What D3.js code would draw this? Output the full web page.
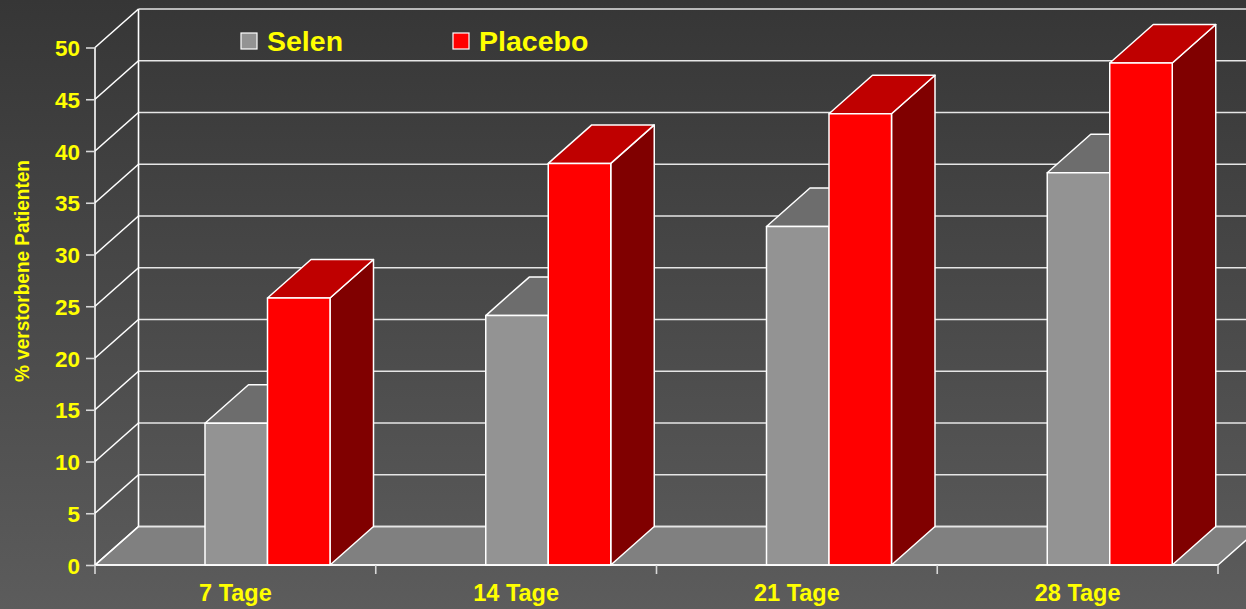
<!DOCTYPE html>
<html>
<head>
<meta charset="utf-8">
<script src="https://cdn.jsdelivr.net/npm/d3@7"></script>
<style>
  html, body { margin: 0; padding: 0; background: #444; }
  svg { display: block; }
  text { font-family: "Liberation Sans", Arial, sans-serif; font-weight: bold; fill: #ffff00; }
</style>
</head>
<body>
<svg id="chart" width="1246" height="609"></svg>
<script>
// Mortality after selenium vs placebo, by day
const categories = ["7 Tage", "14 Tage", "21 Tage", "28 Tage"];
const seriesNames = ["Selen", "Placebo"];
const selenValues = [13.7, 24.1, 32.7, 37.9];
const placeboValues = [25.8, 38.8, 43.6, 48.5];
const yTicks = [0, 5, 10, 15, 20, 25, 30, 35, 40, 45, 50];
const yTitle = "% verstorbene Patienten";

const W = 1246, H = 609;
const svg = d3.select("#chart");

// 3D projection offset of the depth axis
const DX = 43.5, DY = -38.5;

const left = 95, right = 1218, baseY = 565, topY = 47.5;
const y = d3.scaleLinear().domain([0, 50]).range([baseY, topY]);
const x = d3.scaleBand().domain(categories).range([left, right]).padding(0);
const bw = x.bandwidth();
const xInner = d3.scaleBand().domain(seriesNames)
  .range([bw * 110 / 280.75, bw * 235 / 280.75]).padding(0);

const colors = {
  Selen:   { front: "#939393", top: "#6d6d6d", side: "#5a5a5a" },
  Placebo: { front: "#ff0000", top: "#bf0000", side: "#800000" }
};

// background
const defs = svg.append("defs");
const grad = defs.append("linearGradient").attr("id", "bg")
  .attr("x1", 0).attr("y1", 0).attr("x2", 0).attr("y2", 1);
grad.append("stop").attr("offset", "0%").attr("stop-color", "#363636");
grad.append("stop").attr("offset", "100%").attr("stop-color", "#5c5c5c");
svg.append("rect").attr("width", W).attr("height", H).attr("fill", "url(#bg)");

const gridColor = "#e6e6e6";

// floor
svg.append("polygon")
  .attr("points", [[left, baseY], [left + DX, baseY + DY], [right + DX, baseY + DY], [right, baseY]].join(" "))
  .attr("fill", "#808080").attr("stroke", "#ffffff").attr("stroke-width", 1.6)
  .attr("stroke-linejoin", "round");

// gridlines: left wall diagonals and back wall horizontals
const grid = svg.append("g");
yTicks.forEach(t => {
  grid.append("line")
    .attr("x1", left).attr("y1", y(t)).attr("x2", left + DX).attr("y2", y(t) + DY)
    .attr("stroke", "#ffffff").attr("stroke-width", 1.6);
  grid.append("line")
    .attr("x1", left + DX).attr("y1", y(t) + DY).attr("x2", right + DX).attr("y2", y(t) + DY)
    .attr("stroke", gridColor).attr("stroke-width", 1.6);
});
// back-left corner edge
grid.append("line")
  .attr("x1", left + DX).attr("y1", y(0) + DY).attr("x2", left + DX).attr("y2", y(50) + DY)
  .attr("stroke", "#ffffff").attr("stroke-width", 1.6);

// bars (front, top, side)
const rows = [];
categories.forEach((c, i) => {
  rows.push({ cat: c, series: "Selen", value: selenValues[i] });
  rows.push({ cat: c, series: "Placebo", value: placeboValues[i] });
});
const bars = svg.append("g").selectAll("g").data(rows).join("g");
bars.each(function(d) {
  const g = d3.select(this);
  const x0 = x(d.cat) + xInner(d.series);
  const x1 = x0 + xInner.bandwidth();
  const yt = y(d.value), yb = y(0);
  const col = colors[d.series];
  const edge = { stroke: "#ffffff", "stroke-width": 1.5, "stroke-linejoin": "round" };
  const poly = (pts, fill) => {
    const p = g.append("polygon").attr("points", pts.join(" ")).attr("fill", fill);
    Object.entries(edge).forEach(([k, v]) => p.attr(k, v));
  };
  poly([[x1, yb], [x1 + DX, yb + DY], [x1 + DX, yt + DY], [x1, yt]], col.side);
  poly([[x0, yt], [x0 + DX, yt + DY], [x1 + DX, yt + DY], [x1, yt]], col.top);
  poly([[x0, yb], [x0, yt], [x1, yt], [x1, yb]], col.front);
});

// front axis lines
svg.append("line").attr("x1", left).attr("y1", baseY).attr("x2", left).attr("y2", topY)
  .attr("stroke", "#ffffff").attr("stroke-width", 1.6);
svg.append("line").attr("x1", left).attr("y1", baseY).attr("x2", right).attr("y2", baseY)
  .attr("stroke", "#ffffff").attr("stroke-width", 1.6);

// y axis
const yAxis = svg.append("g").attr("transform", `translate(${left},0)`)
  .call(d3.axisLeft(y).tickValues(yTicks).tickSize(9).tickPadding(6));
yAxis.select(".domain").remove();
yAxis.selectAll(".tick line").attr("stroke", "#d8d8d8").attr("stroke-width", 1.6);
yAxis.selectAll(".tick text").attr("font-size", 22.5).attr("fill", "#ffff00")
  .attr("font-family", "Liberation Sans, Arial, sans-serif").attr("font-weight", "bold")
  .attr("dy", "0.36em");

// category boundary ticks
svg.append("g").selectAll("line")
  .data(categories.map(c => x(c)).concat([right]))
  .join("line")
  .attr("x1", d => d).attr("x2", d => d).attr("y1", baseY).attr("y2", baseY + 9)
  .attr("stroke", "#d8d8d8").attr("stroke-width", 1.6);

// x axis labels
const xAxis = svg.append("g").attr("transform", `translate(0,${baseY})`)
  .call(d3.axisBottom(x).tickSize(0).tickPadding(19));
xAxis.select(".domain").remove();
xAxis.selectAll(".tick text").attr("font-size", 23.5).attr("fill", "#ffff00")
  .attr("font-family", "Liberation Sans, Arial, sans-serif").attr("font-weight", "bold");

// y axis title
svg.append("text")
  .attr("transform", "translate(29,271) rotate(-90)")
  .attr("text-anchor", "middle")
  .attr("font-size", 21)
  .attr("textLength", 222).attr("lengthAdjust", "spacingAndGlyphs")
  .text(yTitle);

// legend
const legendPos = { Selen: 241, Placebo: 453 };
const legend = svg.append("g").selectAll("g").data(seriesNames).join("g")
  .attr("transform", d => `translate(${legendPos[d]},33)`);
legend.append("rect").attr("width", 16).attr("height", 16)
  .attr("fill", d => colors[d].front).attr("stroke", "#ffffff").attr("stroke-width", 1.2);
legend.append("text").attr("x", 26).attr("y", 18).attr("font-size", 28.5).text(d => d);
</script>
</body>
</html>
